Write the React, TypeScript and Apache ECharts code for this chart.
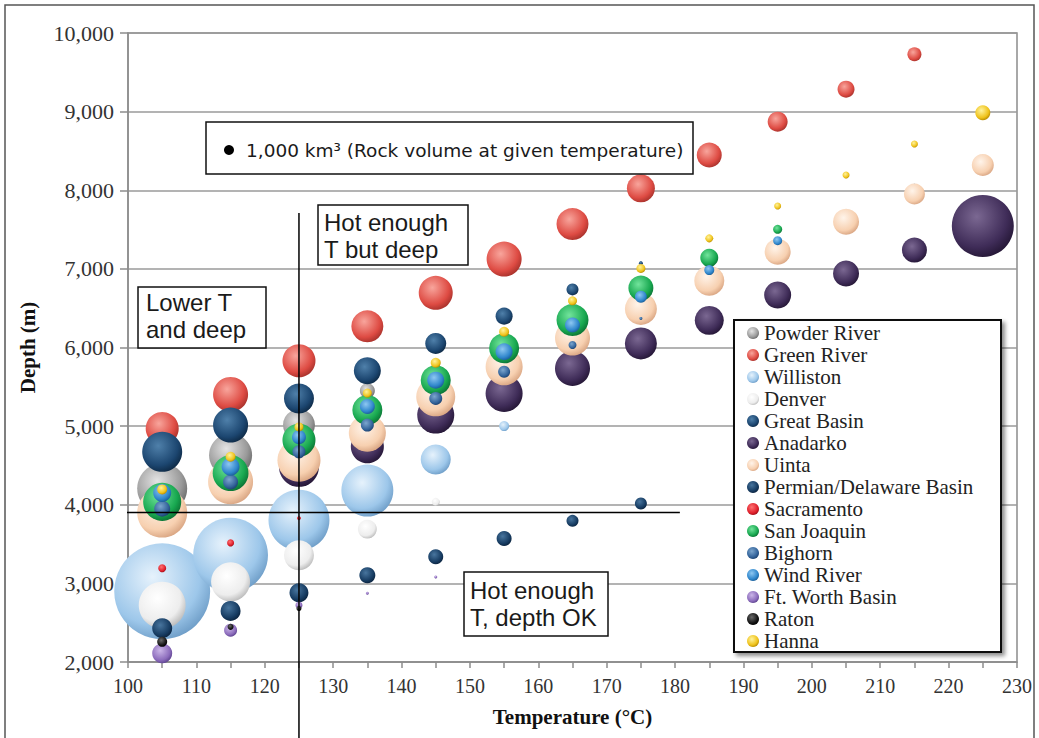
import { useEffect, useRef } from "react";
import * as echarts from "echarts";

// ---- Axis definition ----
const T_MIN = 100;
const T_MAX = 230;
const T_STEP = 10;
const DEPTH_MIN = 2000;
const DEPTH_MAX = 10000;
const DEPTH_STEP = 1000;

// ---- Data: [temperature °C, depth m, rock volume km³] ----
const powderRiver = [[105, 4207, 25000], [115, 4631, 18500], [125, 5013, 10200], [135, 5450, 2250]];
const greenRiver = [[105, 4970, 10900], [115, 5403, 12250], [125, 5831, 10900], [135, 6270, 10240], [145, 6695, 11560], [155, 7125, 12250], [165, 7570, 10240], [175, 8024, 7840], [185, 8448, 6250], [195, 8872, 4000], [205, 9286, 2890], [215, 9729, 1960]];
const williston = [[105, 2900, 92000], [115, 3360, 56000], [125, 3804, 37200], [135, 4180, 27000], [145, 4576, 9000], [155, 5000, 1000]];
const denver = [[105, 2723, 22000], [115, 3020, 15200], [125, 3359, 9000], [135, 3690, 3600], [145, 4037, 640]];
const greatBasin = [[105, 4673, 16000], [115, 5013, 12250], [125, 5352, 9000], [135, 5704, 7300], [145, 6052, 4400], [155, 6399, 2900], [165, 6739, 1440], [175, 7073, 160], [205, 7714, 360], [215, 8057, 160]];
const anadarko = [[125, 4482, 16000], [135, 4738, 10900], [145, 5140, 13700], [155, 5416, 13700], [165, 5734, 12250], [175, 6052, 10240], [185, 6345, 8400], [195, 6667, 7300], [205, 6940, 6760], [215, 7239, 6250], [225, 7545, 38400]];
const uinta = [[105, 3900, 25000], [115, 4292, 20250], [125, 4567, 18500], [135, 4911, 13700], [145, 5373, 15200], [155, 5755, 13700], [165, 6120, 12250], [175, 6490, 10240], [185, 6850, 9000], [195, 7218, 6760], [205, 7600, 6760], [215, 7952, 4400], [225, 8321, 4840]];
const permianDelaware = [[105, 2430, 4000], [115, 2650, 4000], [125, 2880, 3600], [135, 3104, 2560], [145, 3338, 2250], [155, 3571, 2250], [165, 3795, 1440], [175, 4016, 1440]];
const sacramento = [[105, 3193, 640], [115, 3515, 490], [125, 3830, 160]];
const sanJoaquin = [[105, 4037, 14500], [115, 4402, 12800], [125, 4822, 10900], [135, 5204, 9000], [145, 5585, 9000], [155, 5989, 9000], [165, 6349, 10240], [175, 6756, 6250], [185, 7140, 3240], [195, 7503, 810]];
const bighorn = [[105, 3950, 2560], [115, 4290, 2250], [125, 4673, 1690], [135, 5013, 1690], [145, 5352, 1690], [155, 5691, 1440], [165, 6031, 640], [175, 6370, 90]];
const windRiver = [[105, 4150, 3240], [115, 4483, 3240], [125, 4860, 1960], [135, 5250, 2250], [145, 5585, 2890], [155, 5946, 2890], [165, 6285, 2250], [175, 6645, 1440], [185, 6985, 1000], [195, 7358, 810]];
const ftWorth = [[105, 2110, 4000], [115, 2405, 1690], [125, 2723, 490], [135, 2875, 90], [145, 3082, 90]];
const raton = [[105, 2256, 1000], [115, 2447, 360], [125, 2680, 250]];
const hanna = [[105, 4195, 1000], [115, 4610, 1000], [125, 4990, 810], [135, 5420, 810], [145, 5806, 1000], [155, 6200, 1000], [165, 6594, 810], [175, 7006, 810], [185, 7388, 640], [195, 7799, 490], [205, 8193, 490], [215, 8588, 490], [225, 8986, 2250]];

const basinNames = [
  "Powder River", "Green River", "Williston", "Denver", "Great Basin", "Anadarko", "Uinta",
  "Permian/Delaware Basin", "Sacramento", "San Joaquin", "Bighorn", "Wind River",
  "Ft. Worth Basin", "Raton", "Hanna",
];
const basinData = [
  powderRiver, greenRiver, williston, denver, greatBasin, anadarko, uinta,
  permianDelaware, sacramento, sanJoaquin, bighorn, windRiver, ftWorth, raton, hanna,
];

// reference volume for the key bubble
const REF_VOLUME = 1000;
// reference lines: hot enough temperature and depth limit
const hotTLine = [[125, 7710], [125, 1030]];
const depthLimitLine = [[96.6, 3900], [180.7, 3900]];

// ---- Styles ----
const basinColors = [
  ["#e4e4e4", "#9a9a9a", "#6a6a6a"],
  ["#f8a59c", "#de4b43", "#a8322c"],
  ["#e6f2fc", "#9dc7ea", "#6f9ec8"],
  ["#ffffff", "#ededed", "#bcbcbc"],
  ["#4f80aa", "#1c4670", "#0e2a46"],
  ["#7b6892", "#3f2c58", "#251736"],
  ["#fff4ea", "#f7d0b0", "#d9a582"],
  ["#48759e", "#173c62", "#0b233e"],
  ["#ff7272", "#e0202c", "#9e0e18"],
  ["#72e49c", "#18a850", "#0b7234"],
  ["#7ca6ce", "#33639a", "#1c416e"],
  ["#8ec8f2", "#2f86cc", "#1a5d96"],
  ["#cbb6e8", "#8c6cbc", "#5c428e"],
  ["#6a6a6a", "#151515", "#000000"],
  ["#fff39c", "#efc21a", "#b68a00"],
];

const sizeOf = (v: number) => 10 * Math.sqrt(v / 1000);

const grad = (c: string[]) => ({
  type: "radial",
  x: 0.4,
  y: 0.35,
  r: 0.68,
  colorStops: [
    { offset: 0, color: c[0] },
    { offset: 0.72, color: c[1] },
    { offset: 1, color: c[2] },
  ],
});

const SERIF = "'Liberation Serif', 'Times New Roman', serif";
const SANS = "'Liberation Sans', Arial, sans-serif";

export default function App() {
  const ref = useRef<HTMLDivElement>(null);
  useEffect(() => {
    if (!ref.current) return;
    const chart = echarts.init(ref.current, null, { renderer: "svg" });

    const bubbleSeries = basinNames.map((name, i) => ({
      type: "scatter",
      name,
      data: basinData[i],
      symbol: "circle",
      symbolSize: (v: number[]) => sizeOf(v[2]),
      itemStyle: { color: grad(basinColors[i]), opacity: 1 },
      clip: false,
      silent: true,
      z: 2,
    }));

    const lineStyle = { color: "#000", width: 1.5 };
    const refSeries = [
      { type: "line", name: "hotT", data: hotTLine, symbol: "none", clip: false, silent: true, lineStyle, z: 5 },
      { type: "line", name: "depthLimit", data: depthLimitLine, symbol: "none", clip: false, silent: true, lineStyle, z: 5 },
    ];

    const box = (x: number, y: number, w: number, h: number) => ({
      type: "rect",
      shape: { x, y, width: w, height: h },
      style: { fill: "#fff", stroke: "#111", lineWidth: 1.5 },
      z: 90,
    });
    const label = (text: string, x: number, y: number, size = 24, family = SANS) => ({
      type: "text",
      x,
      y,
      style: {
        text,
        fontSize: size,
        fontFamily: family,
        fill: "#1a1a1a",
        align: "left",
        verticalAlign: "middle",
      },
      z: 91,
    });

    const refR = sizeOf(REF_VOLUME) / 2;

    chart.setOption({
      animation: false,
      backgroundColor: "#fff",
      textStyle: { fontFamily: SERIF },
      grid: {
        left: 128,
        top: 33,
        width: 889,
        height: 629,
        show: true,
        borderColor: "#8c8c8c",
        borderWidth: 1.5,
        backgroundColor: "transparent",
      },
      xAxis: {
        type: "value",
        min: T_MIN,
        max: T_MAX,
        interval: T_STEP,
        name: "Temperature (°C)",
        nameLocation: "middle",
        nameGap: 44,
        nameTextStyle: { fontFamily: SERIF, fontSize: 21, fontWeight: "bold", color: "#111" },
        axisLine: { show: true, lineStyle: { color: "#8c8c8c", width: 1.5 } },
        axisTick: { show: true, length: 6, lineStyle: { color: "#8c8c8c", width: 1.5 } },
        minorTick: { show: true, splitNumber: 2, length: 6, lineStyle: { color: "#8c8c8c", width: 1.5 } },
        axisLabel: { fontFamily: SERIF, fontSize: 20, color: "#333", margin: 14 },
        splitLine: { show: false },
      },
      yAxis: {
        type: "value",
        min: DEPTH_MIN,
        max: DEPTH_MAX,
        interval: DEPTH_STEP,
        name: "Depth (m)",
        nameLocation: "middle",
        nameGap: 90,
        nameRotate: 90,
        nameTextStyle: { fontFamily: SERIF, fontSize: 21, fontWeight: "bold", color: "#111" },
        axisLine: { show: true, lineStyle: { color: "#8c8c8c", width: 1.5 } },
        axisTick: { show: true, length: 8, lineStyle: { color: "#8c8c8c", width: 1.5 } },
        axisLabel: {
          fontFamily: SERIF,
          fontSize: 22,
          color: "#333",
          margin: 14,
          formatter: (v: number) => v.toLocaleString("en-US"),
        },
        splitLine: { show: true, lineStyle: { color: "#9a9a9a", width: 1.5 } },
      },
      legend: {
        orient: "vertical",
        left: 747,
        top: 322,
        padding: 0,
        itemGap: 0,
        itemWidth: 12,
        itemHeight: 12,
        icon: "circle",
        selectedMode: false,
        data: basinNames,
        textStyle: { fontFamily: SERIF, fontSize: 21, color: "#222", lineHeight: 22 },
        z: 100,
      },
      graphic: [
        {
          type: "rect",
          shape: { x: 5, y: 5, width: 1029, height: 760 },
          style: { fill: "none", stroke: "#555", lineWidth: 1.5 },
          z: 0,
          silent: true,
        },
        {
          type: "rect",
          shape: { x: 734, y: 320, width: 267, height: 332 },
          style: {
            fill: "#fff",
            stroke: "#111",
            lineWidth: 2,
            shadowBlur: 4,
            shadowOffsetX: 3,
            shadowOffsetY: 3,
            shadowColor: "rgba(0,0,0,0.45)",
          },
          z: 95,
        },
        box(206, 122, 487, 52),
        {
          type: "circle",
          shape: { cx: 229, cy: 150, r: refR },
          style: { fill: "#000" },
          z: 91,
        },
        label("1,000 km³ (Rock volume at given temperature)", 246, 150, 18.5, "'DejaVu Sans', Verdana, sans-serif"),
        box(318, 205, 150, 60),
        label("Hot enough", 324, 222),
        label("T but deep", 324, 249),
        box(138, 287, 128, 61),
        label("Lower T", 146, 302),
        label("and deep", 146, 329),
        box(464, 572, 144, 64),
        label("Hot enough", 470, 590),
        label("T, depth OK", 470, 617),
      ],
      series: [...bubbleSeries, ...refSeries],
    });

    return () => chart.dispose();
  }, []);

  return (
    <div
      ref={ref}
      style={{ position: "fixed", left: 0, top: 0, width: 1039, height: 738, background: "#fff" }}
    />
  );
}
